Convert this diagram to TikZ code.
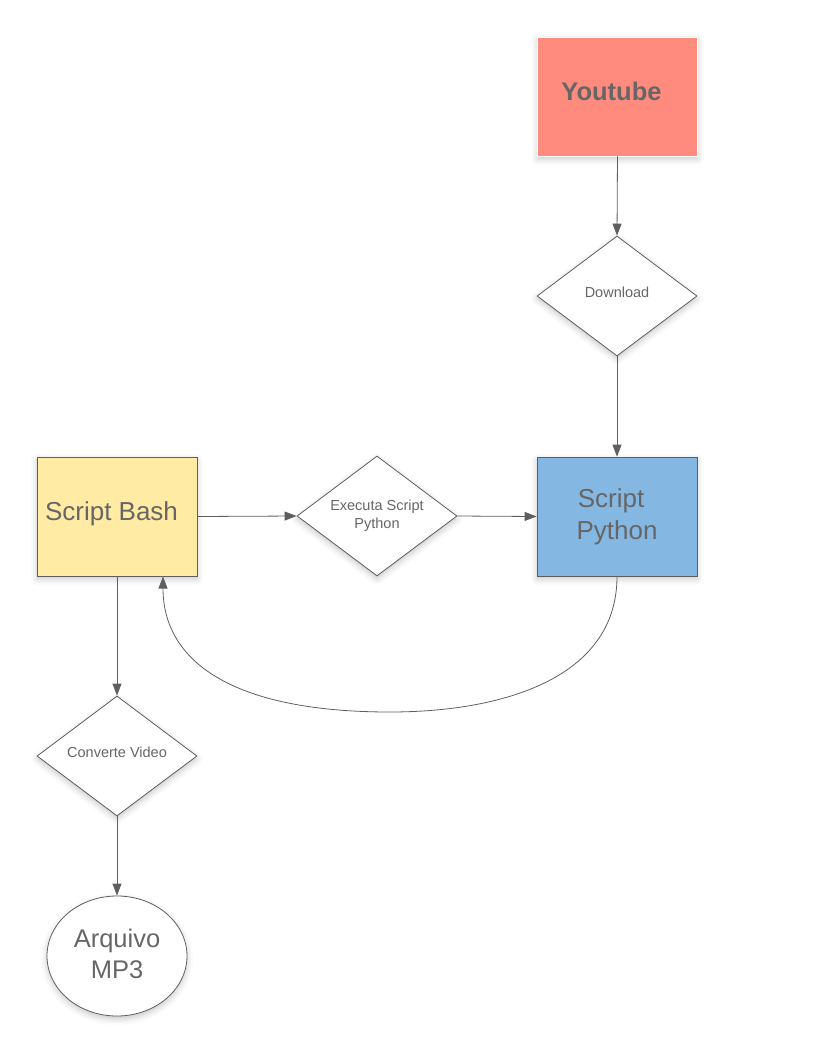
\documentclass[tikz,border=0pt]{standalone}
\usepackage{fontspec}
\setmainfont{Liberation Sans}
\usetikzlibrary{shapes.geometric,arrows.meta,shadows.blur}
\definecolor{linegray}{HTML}{5F5F5F}
\definecolor{textgray}{HTML}{666666}
\definecolor{ytred}{HTML}{FF8B7E}
\definecolor{bashyellow}{HTML}{FFEBA3}
\definecolor{pyblue}{HTML}{84B8E3}
\tikzset{
  shade/.style={blur shadow={shadow xshift=0pt,shadow yshift=-3pt,shadow blur radius=6pt,shadow opacity=22}},
  box/.style={rectangle,draw=linegray,line width=0.8pt,minimum width=160pt,minimum height=119pt,inner sep=0pt,align=center,text=textgray,font=\fontsize{26}{32}\selectfont,shade},
  decision/.style={diamond,draw=linegray,line width=0.8pt,fill=white,minimum width=160pt,minimum height=120pt,inner sep=0pt,aspect=1.333,align=center,text=textgray,font=\fontsize{14.5}{18}\selectfont,shade},
  terminal/.style={ellipse,draw=linegray,line width=0.8pt,fill=white,minimum width=140pt,minimum height=120pt,inner sep=0pt,align=center,text=textgray,font=\fontsize{25.5}{31}\selectfont,shade},
  flow/.style={draw=linegray,line width=0.8pt,-{Triangle[length=12pt,width=9pt]}}
}
\begin{document}
\begin{tikzpicture}[x=1pt,y=-1pt]
\useasboundingbox (0,0) rectangle (816,1038);
\node[box,fill=ytred,draw=white,font=\fontsize{25.5}{32}\selectfont\bfseries] (yt) at (617.5,96.5) {\raisebox{10pt}{Youtube\hspace*{12pt}}};
\node[decision] (dl) at (617,296) {\raisebox{8pt}{Download}};
\node[box,fill=pyblue] (py) at (617,516.5) {Script\hspace*{12pt}\\Python};
\node[box,fill=bashyellow] (bash) at (117,516.5) {\raisebox{10pt}{Script Bash\hspace*{11pt}}};
\node[decision] (ex) at (377,516) {Executa Script\\Python};
\node[decision] (cv) at (117,756) {\raisebox{8pt}{Converte Video}};
\node[terminal] (mp3) at (117,956) {\raisebox{5pt}{Arquivo}\\\raisebox{5pt}{MP3}};
\coordinate (bashret) at (163,576.5);
\draw[flow] (yt.south) -- (dl.north);
\draw[flow] (dl.south) -- (py.north);
\draw[flow] (bash.east) -- (ex.west);
\draw[flow] (ex.east) -- (py.west);
\draw[flow] (bash.south) -- (cv.north);
\draw[flow] (cv.south) -- (mp3.north);
\draw[flow] (py.south) .. controls +(0,103) and (500,712) .. (390,712)
  .. controls (230,712) and (163,660) .. (bashret);
\end{tikzpicture}
\end{document}
